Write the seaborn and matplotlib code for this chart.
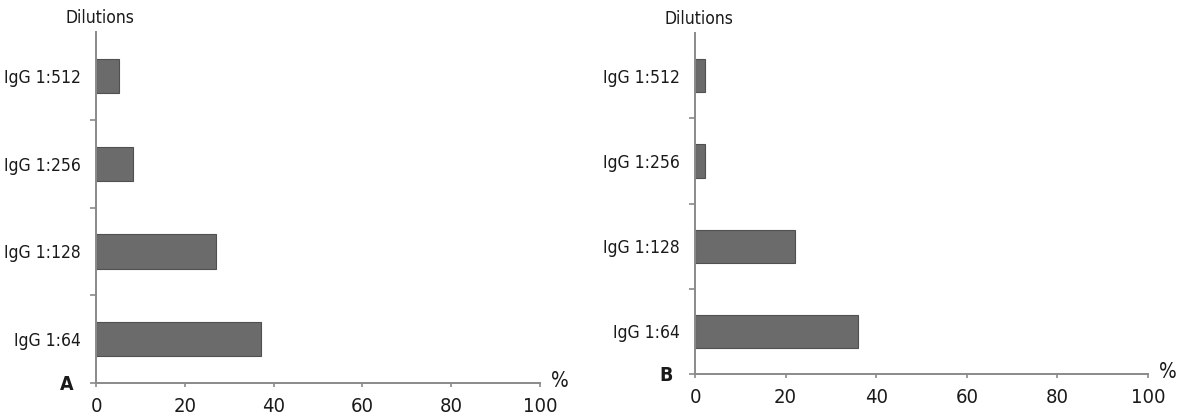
import numpy as np
import pandas as pd
import matplotlib
matplotlib.use("Agg")
import matplotlib.pyplot as plt
import seaborn as sns

# Данные
dilutions = ["IgG 1:512", "IgG 1:256", "IgG 1:128", "IgG 1:64"]
percent_a = [5.2, 8.3, 27.1, 37.2]
percent_b = [2.2, 2.2, 22.1, 35.9]
x_ticks = [0, 20, 40, 60, 80, 100]
panel_labels = ["A", "B"]

sns.set_style("white")
plt.rcParams["font.family"] = ["DejaVu Sans", "Liberation Sans"]
plt.rcParams["font.stretch"] = "condensed"
plt.rcParams["text.color"] = "#1a1a1a"
plt.rcParams["xtick.labelcolor"] = "#1a1a1a"
plt.rcParams["ytick.labelcolor"] = "#1a1a1a"

bar_color = "#6b6b6b"
axis_color = "#8a8a8a"

fig = plt.figure(figsize=(11.83, 4.17), dpi=100)
ax_a = fig.add_axes([0.0812, 0.0815, 0.3753, 0.8417])
ax_b = fig.add_axes([0.5875, 0.1031, 0.3829, 0.8177])

for ax, vals, lab in zip([ax_a, ax_b], [percent_a, percent_b], panel_labels):
    df = pd.DataFrame({"dilution": dilutions, "percent": vals})
    sns.barplot(data=df, x="percent", y="dilution", order=dilutions, orient="h",
                color=bar_color, edgecolor="#505050", linewidth=0.8,
                width=0.39, saturation=1, ax=ax)
    ax.set_xlim(0, 100)
    ax.set_ylim(3.5, -0.5)
    ax.set_xticks(x_ticks)
    ax.set_xticklabels([str(t) for t in x_ticks], fontsize=14.5)
    ax.set_yticks(range(len(dilutions)))
    ax.set_yticklabels(dilutions, fontsize=12.5)
    ax.set_yticks([0.5, 1.5, 2.5, 3.5], minor=True)
    ax.tick_params(axis="y", which="major", left=True, length=0, pad=11)
    ax.tick_params(axis="y", which="minor", left=True, length=4, width=1.2,
                   color=axis_color, direction="out")
    ax.tick_params(axis="x", bottom=True, length=3, width=1.2, color=axis_color,
                   direction="out", pad=7)
    ax.set_xlabel("")
    ax.set_ylabel("")
    for side in ["top", "right"]:
        ax.spines[side].set_visible(False)
    for side in ["left", "bottom"]:
        ax.spines[side].set_color(axis_color)
        ax.spines[side].set_linewidth(1.4)
    ax.annotate("Dilutions", xy=(0, 1), xycoords="axes fraction",
                xytext=(4, 5), textcoords="offset pixels",
                fontsize=12.5, ha="center", va="bottom")
    ax.annotate("%", xy=(1, 0), xycoords="axes fraction",
                xytext=(20, 2), textcoords="offset pixels",
                fontsize=15, ha="center", va="center")
    ax.annotate(lab, xy=(0, 0), xycoords="axes fraction",
                xytext=(-29, -1), textcoords="offset pixels",
                fontsize=14, fontweight="bold", ha="center", va="center")

fig.savefig("out.png", dpi=100)
